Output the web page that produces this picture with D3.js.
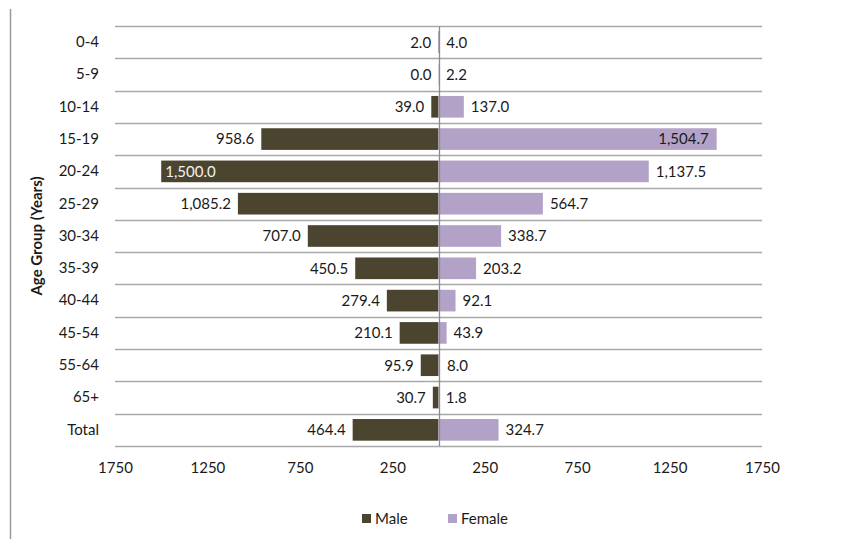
<!DOCTYPE html>
<html>
<head>
<meta charset="utf-8">
<script src="https://cdn.jsdelivr.net/npm/d3@7"></script>
<style>
  body { margin: 0; background: #fff; }
  svg text { font-family: Lato, "Open Sans", sans-serif; fill: #1a1a1a; }
</style>
</head>
<body>
<div id="chart"></div>
<script>
// age groups, top to bottom
const ageGroups = ['0-4', '5-9', '10-14', '15-19', '20-24', '25-29', '30-34', '35-39', '40-44', '45-54', '55-64', '65+', 'Total']
const maleValues = [2.0, 0.0, 39.0, 958.6, 1500.0, 1085.2, 707.0, 450.5, 279.4, 210.1, 95.9, 30.7, 464.4]
const femaleValues = [4.0, 2.2, 137.0, 1504.7, 1137.5, 564.7, 338.7, 203.2, 92.1, 43.9, 8.0, 1.8, 324.7]
const tickValues = [-1750, -1250, -750, -250, 250, 750, 1250, 1750]
const seriesNames = ['Male', 'Female']
const colors = { Male: '#4b452f', Female: '#b3a2c7' }

const width = 846, height = 539
const margin = { top: 26, right: 84, bottom: 93, left: 115 }
const fontSize = 15

const svg = d3.select('#chart').append('svg')
  .attr('width', width)
  .attr('height', height)

// frame line on the left edge of the figure
svg.append('line')
  .attr('x1', 10.5).attr('x2', 10.5)
  .attr('y1', 9).attr('y2', height)
  .attr('stroke', '#9a9a9a')
  .attr('stroke-width', 1.5)

const x = d3.scaleLinear()
  .domain([-1750, 1750])
  .range([margin.left, width - margin.right])

const y = d3.scaleBand()
  .domain(ageGroups)
  .range([margin.top, height - margin.bottom])
  .paddingInner(0.33)
  .paddingOuter(0.165)

const rows = ageGroups.map((g, i) => ({ group: g, male: maleValues[i], female: femaleValues[i] }))

// row separators
const step = y.step()
const lines = d3.range(ageGroups.length + 1).map(i => margin.top + i * step)
svg.append('g')
  .selectAll('line')
  .data(lines)
  .join('line')
  .attr('x1', margin.left).attr('x2', width - margin.right)
  .attr('y1', d => Math.round(d) + 0.5).attr('y2', d => Math.round(d) + 0.5)
  .attr('stroke', '#a8a8a8')
  .attr('stroke-width', 1.3)

// bars
const bars = svg.append('g')
bars.selectAll('.male')
  .data(rows)
  .join('rect')
  .attr('class', 'male')
  .attr('x', d => x(-d.male))
  .attr('y', d => y(d.group))
  .attr('width', d => x(0) - x(-d.male))
  .attr('height', y.bandwidth())
  .attr('fill', colors.Male)

bars.selectAll('.female')
  .data(rows)
  .join('rect')
  .attr('class', 'female')
  .attr('x', x(0))
  .attr('y', d => y(d.group))
  .attr('width', d => x(d.female) - x(0))
  .attr('height', y.bandwidth())
  .attr('fill', colors.Female)

// centre line
svg.append('line')
  .attr('x1', Math.round(x(0)) + 0.5).attr('x2', Math.round(x(0)) + 0.5)
  .attr('y1', margin.top).attr('y2', height - margin.bottom)
  .attr('stroke', '#8c8c8c')
  .attr('stroke-width', 1.3)

// value labels
const fmt = d3.format(',.1f')
const labels = svg.append('g').attr('font-size', fontSize)
const maxVal = 1500

labels.selectAll('.mlab')
  .data(rows)
  .join('text')
  .attr('class', 'mlab')
  .attr('y', d => y(d.group) + y.bandwidth() / 2)
  .attr('dy', '0.36em')
  .each(function (d) {
    const t = d3.select(this).text(fmt(d.male))
    if (d.male >= maxVal) {
      t.attr('x', x(-d.male) + 4).attr('text-anchor', 'start').style('fill', '#f2f2f2')
    } else {
      t.attr('x', x(-d.male) - 7).attr('text-anchor', 'end')
    }
  })

labels.selectAll('.flab')
  .data(rows)
  .join('text')
  .attr('class', 'flab')
  .attr('y', d => y(d.group) + y.bandwidth() / 2)
  .attr('dy', '0.36em')
  .each(function (d) {
    const t = d3.select(this).text(fmt(d.female))
    if (d.female >= maxVal) {
      t.attr('x', x(d.female) - 8).attr('text-anchor', 'end')
    } else {
      t.attr('x', x(d.female) + 7).attr('text-anchor', 'start')
    }
  })

// category axis
const yAxis = svg.append('g')
  .attr('transform', `translate(${margin.left - 16},0)`)
  .call(d3.axisLeft(y).tickSize(0).tickPadding(0))
yAxis.select('.domain').remove()
yAxis.selectAll('text')
  .attr('font-size', fontSize)
  .style('font-family', 'Lato, sans-serif')
  .style('fill', '#1a1a1a')

// value axis (no line, absolute values)
const xAxis = svg.append('g')
  .attr('transform', `translate(0,${height - margin.bottom + 13})`)
  .call(d3.axisBottom(x).tickValues(tickValues).tickSize(0).tickFormat(d => Math.abs(d)))
xAxis.select('.domain').remove()
xAxis.selectAll('text')
  .attr('font-size', fontSize)
  .style('font-family', 'Lato, sans-serif')
  .style('fill', '#1a1a1a')

// axis title
svg.append('text')
  .attr('transform', `translate(42,${(margin.top + height - margin.bottom) / 2}) rotate(-90)`)
  .attr('text-anchor', 'middle')
  .attr('font-size', fontSize)
  .attr('font-weight', 'bold')
  .text('Age Group (Years)')

// legend
const legend = svg.append('g').attr('transform', 'translate(362,519)')
const legendX = [0, 86]
seriesNames.forEach((name, i) => {
  legend.append('rect')
    .attr('x', legendX[i]).attr('y', -5)
    .attr('width', 9).attr('height', 9)
    .attr('fill', colors[name])
  legend.append('text')
    .attr('x', legendX[i] + 13).attr('y', 0)
    .attr('dy', '0.36em')
    .attr('font-size', fontSize)
    .text(name)
})
</script>
</body>
</html>
